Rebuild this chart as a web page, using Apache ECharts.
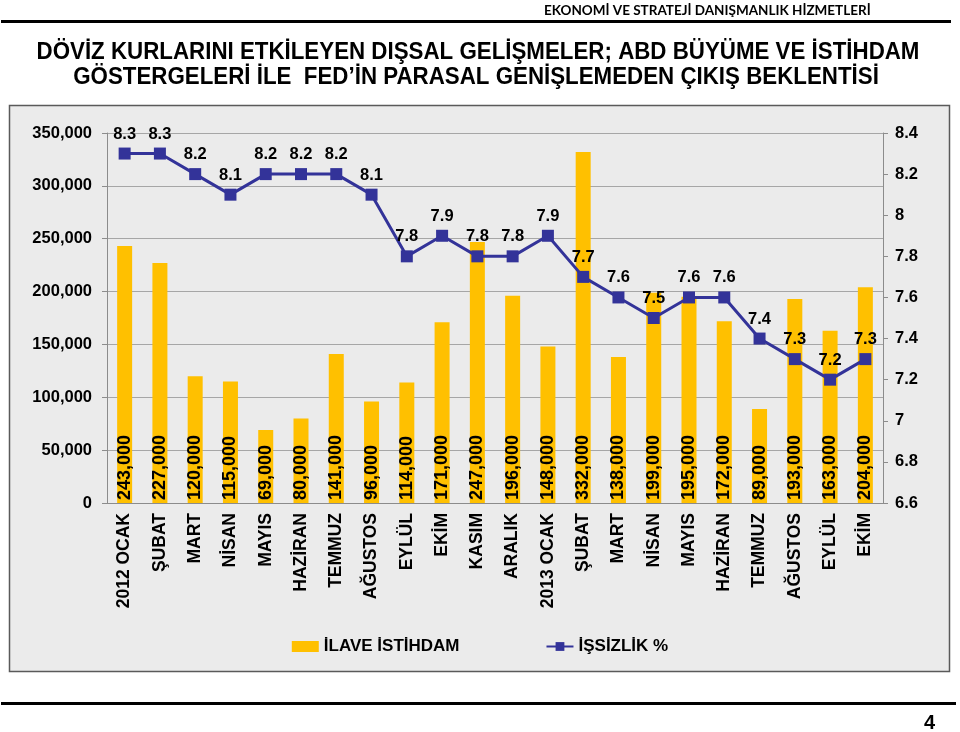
<!DOCTYPE html>
<html>
<head>
<meta charset="utf-8">
<script src="https://cdn.jsdelivr.net/npm/echarts@6/dist/echarts.min.js"></script>
<style>
html,body{margin:0;padding:0;background:#fff;}
#c{width:960px;height:732px;}
</style>
</head>
<body>
<div id="c"></div>
<script>
const categories = ['2012 OCAK','ŞUBAT','MART','NİSAN','MAYIS','HAZİRAN','TEMMUZ','AĞUSTOS','EYLÜL','EKİM','KASIM','ARALIK','2013 OCAK','ŞUBAT','MART','NİSAN','MAYIS','HAZİRAN','TEMMUZ','AĞUSTOS','EYLÜL','EKİM'];
const ilaveIstihdam = [243000,227000,120000,115000,69000,80000,141000,96000,114000,171000,247000,196000,148000,332000,138000,199000,195000,172000,89000,193000,163000,204000];
const issizlik = [8.3,8.3,8.2,8.1,8.2,8.2,8.2,8.1,7.8,7.9,7.8,7.8,7.9,7.7,7.6,7.5,7.6,7.6,7.4,7.3,7.2,7.3];
const seriesNames = ['İLAVE İSTİHDAM','İŞSİZLİK %'];
const headerText = 'EKONOMİ VE STRATEJİ DANIŞMANLIK HİZMETLERİ';
const titleLines = ['DÖVİZ KURLARINI ETKİLEYEN DIŞSAL GELİŞMELER; ABD BÜYÜME VE İSTİHDAM','GÖSTERGELERİ İLE  FED’İN PARASAL GENİŞLEMEDEN ÇIKIŞ BEKLENTİSİ'];
const pageNumber = '4';

const chart = echarts.init(document.getElementById('c'), null, {renderer:'canvas'});
const F = '"Liberation Sans", Arial, sans-serif';
const fmt = v => Number(v).toLocaleString('en-US');
const titleFont = 'bold 24px "Liberation Sans", Arial, sans-serif';

chart.setOption({
  backgroundColor:'#ffffff',
  animation:false,
  graphic:[
    {type:'rect', z:-10, shape:{x:9.5,y:105.5,width:940,height:566}, style:{fill:'#ebebeb', stroke:'#5a5a5a', lineWidth:1.5}},
    {type:'text', left:544, top:4, style:{text:headerText, font:'bold 13.5px Lato, "Open Sans", sans-serif', fill:'#000'}},
    {type:'rect', shape:{x:1,y:20,width:950,height:3}, style:{fill:'#000'}},
    {type:'rect', shape:{x:1,y:702,width:955,height:3}, style:{fill:'#000'}},
    {type:'text', left:924, top:713, style:{text:pageNumber, font:'bold 20px '+F, fill:'#000'}},
    {type:'text', x:478, y:52, scaleX:0.93, style:{text:titleLines[0], font:titleFont, fill:'#000', align:'center', verticalAlign:'middle'}},
    {type:'text', x:476, y:77, scaleX:0.93, style:{text:titleLines[1], font:titleFont, fill:'#000', align:'center', verticalAlign:'middle'}}
  ],
  legend:{
    top:633, left:'center', itemGap:86, itemWidth:27, itemHeight:11,
    textStyle:{fontFamily:F, fontWeight:'bold', fontSize:17, color:'#000'},
    data:[
      {name:seriesNames[0], icon:'rect'},
      {name:seriesNames[1]}
    ]
  },
  grid:{left:107, right:77, top:133, bottom:229, containLabel:false},
  xAxis:{
    type:'category', data:categories,
    axisLine:{lineStyle:{color:'#8c8c8c', width:1}},
    axisTick:{show:false},
    axisLabel:{rotate:90, interval:0, margin:10, fontFamily:F, fontWeight:'bold', fontSize:17.5, color:'#000'}
  },
  yAxis:[
    {type:'value', min:0, max:350000, interval:50000, position:'left',
     axisLine:{show:true, lineStyle:{color:'#8c8c8c'}},
     axisTick:{show:true, length:5, lineStyle:{color:'#8c8c8c'}},
     splitLine:{show:true, lineStyle:{color:'#a6a6a6', width:1}},
     axisLabel:{formatter:fmt, margin:15, fontFamily:F, fontWeight:'bold', fontSize:16.5, color:'#000'}},
    {type:'value', min:6.6, max:8.4, interval:0.2, position:'right',
     axisLine:{show:true, lineStyle:{color:'#8c8c8c'}},
     axisTick:{show:true, length:5, lineStyle:{color:'#8c8c8c'}},
     splitLine:{show:false},
     axisLabel:{formatter:v => String(Math.round(v*10)/10), margin:12, fontFamily:F, fontWeight:'bold', fontSize:16.5, color:'#000'}}
  ],
  series:[
    {name:seriesNames[0], type:'bar', yAxisIndex:0, data:ilaveIstihdam, barWidth:15,
     itemStyle:{color:'#ffc000'},
     label:{show:true, position:'insideBottom', rotate:90, align:'left', verticalAlign:'middle', distance:3,
            formatter:p => fmt(p.value), fontFamily:F, fontWeight:'bold', fontSize:18, color:'#000'}},
    {name:seriesNames[1], type:'line', yAxisIndex:1, data:issizlik,
     symbol:'rect', symbolSize:12, lineStyle:{color:'#333399', width:3}, itemStyle:{color:'#333399'},
     label:{show:true, position:'top', distance:5, formatter:p => p.value.toFixed(1),
            fontFamily:F, fontWeight:'bold', fontSize:16.5, color:'#000'}}
  ]
});
</script>
</body>
</html>
